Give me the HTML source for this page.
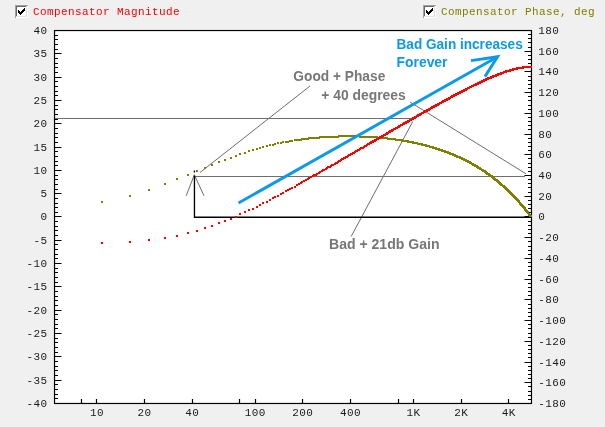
<!DOCTYPE html>
<html lang="en">
<head>
<meta charset="utf-8">
<title>Compensator Magnitude / Phase</title>
<style>
html,body{margin:0;padding:0;background:#f0f0f0;}
body{width:605px;height:427px;overflow:hidden;position:relative;font-family:"Liberation Mono",monospace;}
.chart{position:absolute;left:0;top:0;width:605px;height:427px;background:#f0f0f0;}
.plot{position:absolute;left:0;top:0;display:block;}
.legend{position:absolute;top:5px;height:13px;white-space:nowrap;font:11px/13px "Liberation Mono",monospace;letter-spacing:0.4px;}
.legend .cb{position:absolute;left:0;top:0;display:block;}
.legend span{position:absolute;left:18px;top:0.5px;}
.l1{left:15px;color:#ff0000;}
.l2{left:423px;color:#808000;}
.tl text{font:11px "Liberation Mono",monospace;letter-spacing:0.4px;fill:#1a1a1a;}
.an{font:bold 14px "Liberation Sans",sans-serif;}
.g{fill:#777;}
.b{fill:#0d99ea;}
</style>
</head>
<body>
<div class="chart">
<svg class="plot" width="605" height="427" viewBox="0 0 605 427">
<rect x="53" y="29" width="480" height="376" fill="#fff"/>
<g fill="none" stroke="#000" stroke-width="1.25">
<rect x="54.5" y="30.5" width="477" height="373"/>
</g>
<path d="M54.5 30.5h7M54.5 35.5h3.5M54.5 39.5h3.5M54.5 44.5h3.5M54.5 49.5h3.5M54.5 53.5h7M54.5 58.5h3.5M54.5 63.5h3.5M54.5 67.5h3.5M54.5 72.5h3.5M54.5 77.5h7M54.5 81.5h3.5M54.5 86.5h3.5M54.5 91.5h3.5M54.5 95.5h3.5M54.5 100.5h7M54.5 105.5h3.5M54.5 109.5h3.5M54.5 114.5h3.5M54.5 119.5h3.5M54.5 123.5h7M54.5 128.5h3.5M54.5 133.5h3.5M54.5 137.5h3.5M54.5 142.5h3.5M54.5 147.5h7M54.5 151.5h3.5M54.5 156.5h3.5M54.5 161.5h3.5M54.5 165.5h3.5M54.5 170.5h7M54.5 175.5h3.5M54.5 179.5h3.5M54.5 184.5h3.5M54.5 189.5h3.5M54.5 193.5h7M54.5 198.5h3.5M54.5 203.5h3.5M54.5 207.5h3.5M54.5 212.5h3.5M54.5 216.5h7M54.5 221.5h3.5M54.5 226.5h3.5M54.5 230.5h3.5M54.5 235.5h3.5M54.5 240.5h7M54.5 244.5h3.5M54.5 249.5h3.5M54.5 254.5h3.5M54.5 258.5h3.5M54.5 263.5h7M54.5 268.5h3.5M54.5 272.5h3.5M54.5 277.5h3.5M54.5 282.5h3.5M54.5 286.5h7M54.5 291.5h3.5M54.5 296.5h3.5M54.5 300.5h3.5M54.5 305.5h3.5M54.5 310.5h7M54.5 314.5h3.5M54.5 319.5h3.5M54.5 324.5h3.5M54.5 328.5h3.5M54.5 333.5h7M54.5 338.5h3.5M54.5 342.5h3.5M54.5 347.5h3.5M54.5 352.5h3.5M54.5 356.5h7M54.5 361.5h3.5M54.5 366.5h3.5M54.5 370.5h3.5M54.5 375.5h3.5M54.5 380.5h7M54.5 384.5h3.5M54.5 389.5h3.5M54.5 394.5h3.5M54.5 398.5h3.5M54.5 403.5h7M531.5 30.5h-7M531.5 34.5h-3.5M531.5 38.5h-3.5M531.5 42.5h-3.5M531.5 47.5h-3.5M531.5 51.5h-7M531.5 55.5h-3.5M531.5 59.5h-3.5M531.5 63.5h-3.5M531.5 67.5h-3.5M531.5 71.5h-7M531.5 76.5h-3.5M531.5 80.5h-3.5M531.5 84.5h-3.5M531.5 88.5h-3.5M531.5 92.5h-7M531.5 96.5h-3.5M531.5 100.5h-3.5M531.5 105.5h-3.5M531.5 109.5h-3.5M531.5 113.5h-7M531.5 117.5h-3.5M531.5 121.5h-3.5M531.5 125.5h-3.5M531.5 129.5h-3.5M531.5 134.5h-7M531.5 138.5h-3.5M531.5 142.5h-3.5M531.5 146.5h-3.5M531.5 150.5h-3.5M531.5 154.5h-7M531.5 158.5h-3.5M531.5 163.5h-3.5M531.5 167.5h-3.5M531.5 171.5h-3.5M531.5 175.5h-7M531.5 179.5h-3.5M531.5 183.5h-3.5M531.5 187.5h-3.5M531.5 192.5h-3.5M531.5 196.5h-7M531.5 200.5h-3.5M531.5 204.5h-3.5M531.5 208.5h-3.5M531.5 212.5h-3.5M531.5 216.5h-7M531.5 221.5h-3.5M531.5 225.5h-3.5M531.5 229.5h-3.5M531.5 233.5h-3.5M531.5 237.5h-7M531.5 241.5h-3.5M531.5 246.5h-3.5M531.5 250.5h-3.5M531.5 254.5h-3.5M531.5 258.5h-7M531.5 262.5h-3.5M531.5 266.5h-3.5M531.5 270.5h-3.5M531.5 275.5h-3.5M531.5 279.5h-7M531.5 283.5h-3.5M531.5 287.5h-3.5M531.5 291.5h-3.5M531.5 295.5h-3.5M531.5 299.5h-7M531.5 304.5h-3.5M531.5 308.5h-3.5M531.5 312.5h-3.5M531.5 316.5h-3.5M531.5 320.5h-7M531.5 324.5h-3.5M531.5 328.5h-3.5M531.5 333.5h-3.5M531.5 337.5h-3.5M531.5 341.5h-7M531.5 345.5h-3.5M531.5 349.5h-3.5M531.5 353.5h-3.5M531.5 357.5h-3.5M531.5 362.5h-7M531.5 366.5h-3.5M531.5 370.5h-3.5M531.5 374.5h-3.5M531.5 378.5h-3.5M531.5 382.5h-7M531.5 386.5h-3.5M531.5 391.5h-3.5M531.5 395.5h-3.5M531.5 399.5h-3.5M531.5 403.5h-7M81.5 403.5v-4.5M96.5 403.5v-4.5M144.5 403.5v-4.5M192.5 403.5v-4.5M239.5 403.5v-4.5M255.5 403.5v-4.5M302.5 403.5v-4.5M350.5 403.5v-4.5M398.5 403.5v-4.5M413.5 403.5v-4.5M461.5 403.5v-4.5M508.5 403.5v-4.5" fill="none" stroke="#000" stroke-width="1.2"/>
<g fill="none" stroke="#6e6e6e" stroke-width="1">
<path d="M55 118.5H413.6"/>
<path d="M194.5 176.5H525"/>
<path d="M200 172.5L310 86"/>
<path d="M410.1 102.1L526 173.8"/>
<path d="M351.1 236.6L412.8 121.5"/>
<path d="M186.2 195.8L194.3 174.8L204 195.8"/>
</g>
<path d="M194.45 170.5V172.5M194.45 175.5V217.25H531" fill="none" stroke="#000" stroke-width="1.35"/>
<path class="phase" fill="#808000" shape-rendering="crispEdges" d="M101 201h2v2h-2zM129 195h2v2h-2zM148 189h2v2h-2zM164 183h2v2h-2zM176 178h2v2h-2zM187 174h2v2h-2zM196 170h2v2h-2zM204 167h2v2h-2zM211 164h2v2h-2zM218 161h2v2h-2zM224 159h2v2h-2zM230 157h2v2h-2zM235 155h2v2h-2zM239 153h2v2h-2zM244 152h2v2h-2zM248 150h2v2h-2zM252 149h2v2h-2zM256 148h2v2h-2zM259 147h2v2h-2zM262 146h2v2h-2zM266 145h2v2h-2zM269 144h2v2h-2zM272 144h2v2h-2zM274 143h2v2h-2zM277 142h2v2h-2zM280 142h2v2h-2zM282 141h2v2h-2zM285 141h2v2h-2zM287 141h2v2h-2zM289 140h2v2h-2zM291 140h2v2h-2zM294 139h2v2h-2zM296 139h2v2h-2zM298 139h2v2h-2zM300 139h2v2h-2zM301 138h2v2h-2zM303 138h2v2h-2zM305 138h2v2h-2zM307 138h2v2h-2zM308 137h2v2h-2zM310 137h2v2h-2zM312 137h2v2h-2zM313 137h2v2h-2zM315 137h2v2h-2zM316 137h2v2h-2zM318 137h2v2h-2zM319 136h2v2h-2zM321 136h2v2h-2zM322 136h2v2h-2zM323 136h2v2h-2zM325 136h2v2h-2zM326 136h2v2h-2zM327 136h2v2h-2zM329 136h2v2h-2zM330 136h2v2h-2zM331 136h2v2h-2zM332 136h2v2h-2zM334 136h2v2h-2zM335 136h2v2h-2zM336 136h2v2h-2zM337 136h2v2h-2zM338 135h2v2h-2zM339 135h2v2h-2zM340 135h2v2h-2zM341 135h2v2h-2zM342 135h2v2h-2zM343 135h2v2h-2zM344 135h2v2h-2zM345 135h2v2h-2zM346 135h2v2h-2zM347 135h2v2h-2zM348 135h2v2h-2zM349 135h2v2h-2zM350 135h2v2h-2zM351 135h2v2h-2zM352 135h2v2h-2zM353 135h2v2h-2zM354 135h2v2h-2zM355 135h2v2h-2zM356 135h2v2h-2zM357 135h2v2h-2zM358 135h2v2h-2zM359 136h2v2h-2zM360 136h2v2h-2zM361 136h2v2h-2zM362 136h2v2h-2zM363 136h2v2h-2zM364 136h2v2h-2zM365 136h2v2h-2zM366 136h2v2h-2zM367 136h2v2h-2zM368 136h2v2h-2zM369 136h2v2h-2zM370 136h2v2h-2zM371 136h2v2h-2zM372 136h2v2h-2zM373 136h2v2h-2zM374 136h2v2h-2zM375 136h2v2h-2zM376 136h2v2h-2zM376 137h2v2h-2zM377 137h2v2h-2zM378 137h2v2h-2zM379 137h2v2h-2zM380 137h2v2h-2zM381 137h2v2h-2zM382 137h2v2h-2zM383 137h2v2h-2zM384 137h2v2h-2zM385 137h2v2h-2zM386 137h2v2h-2zM387 138h2v2h-2zM388 138h2v2h-2zM389 138h2v2h-2zM390 138h2v2h-2zM391 138h2v2h-2zM392 138h2v2h-2zM393 138h2v2h-2zM394 138h2v2h-2zM395 139h2v2h-2zM396 139h2v2h-2zM397 139h2v2h-2zM398 139h2v2h-2zM399 139h2v2h-2zM400 139h2v2h-2zM401 139h2v2h-2zM401 140h2v2h-2zM402 140h2v2h-2zM403 140h2v2h-2zM404 140h2v2h-2zM405 140h2v2h-2zM406 140h2v2h-2zM407 140h2v2h-2zM407 141h2v2h-2zM408 141h2v2h-2zM409 141h2v2h-2zM410 141h2v2h-2zM411 141h2v2h-2zM412 141h2v2h-2zM412 142h2v2h-2zM413 142h2v2h-2zM414 142h2v2h-2zM415 142h2v2h-2zM416 142h2v2h-2zM417 143h2v2h-2zM418 143h2v2h-2zM419 143h2v2h-2zM420 143h2v2h-2zM421 143h2v2h-2zM421 144h2v2h-2zM422 144h2v2h-2zM423 144h2v2h-2zM424 144h2v2h-2zM425 144h2v2h-2zM425 145h2v2h-2zM426 145h2v2h-2zM427 145h2v2h-2zM428 145h2v2h-2zM429 146h2v2h-2zM430 146h2v2h-2zM431 146h2v2h-2zM432 146h2v2h-2zM432 147h2v2h-2zM433 147h2v2h-2zM434 147h2v2h-2zM435 147h2v2h-2zM435 148h2v2h-2zM436 148h2v2h-2zM437 148h2v2h-2zM438 148h2v2h-2zM438 149h2v2h-2zM439 149h2v2h-2zM440 149h2v2h-2zM441 149h2v2h-2zM441 150h2v2h-2zM442 150h2v2h-2zM443 150h2v2h-2zM444 150h2v2h-2zM444 151h2v2h-2zM445 151h2v2h-2zM446 151h2v2h-2zM447 151h2v2h-2zM447 152h2v2h-2zM448 152h2v2h-2zM449 152h2v2h-2zM449 153h2v2h-2zM450 153h2v2h-2zM451 153h2v2h-2zM452 153h2v2h-2zM452 154h2v2h-2zM453 154h2v2h-2zM454 154h2v2h-2zM454 155h2v2h-2zM455 155h2v2h-2zM456 155h2v2h-2zM456 156h2v2h-2zM457 156h2v2h-2zM458 156h2v2h-2zM459 156h2v2h-2zM459 157h2v2h-2zM460 157h2v2h-2zM461 157h2v2h-2zM461 158h2v2h-2zM462 158h2v2h-2zM463 158h2v2h-2zM463 159h2v2h-2zM464 159h2v2h-2zM465 159h2v2h-2zM465 160h2v2h-2zM466 160h2v2h-2zM467 160h2v2h-2zM467 161h2v2h-2zM468 161h2v2h-2zM469 161h2v2h-2zM469 162h2v2h-2zM470 162h2v2h-2zM471 163h2v2h-2zM472 163h2v2h-2zM472 164h2v2h-2zM473 164h2v2h-2zM474 164h2v2h-2zM474 165h2v2h-2zM475 165h2v2h-2zM476 165h2v2h-2zM476 166h2v2h-2zM477 166h2v2h-2zM477 167h2v2h-2zM478 167h2v2h-2zM479 167h2v2h-2zM479 168h2v2h-2zM480 168h2v2h-2zM481 169h2v2h-2zM482 169h2v2h-2zM482 170h2v2h-2zM483 170h2v2h-2zM484 170h2v2h-2zM484 171h2v2h-2zM485 171h2v2h-2zM485 172h2v2h-2zM486 172h2v2h-2zM486 173h2v2h-2zM487 173h2v2h-2zM488 173h2v2h-2zM488 174h2v2h-2zM489 174h2v2h-2zM489 175h2v2h-2zM490 175h2v2h-2zM491 175h2v2h-2zM491 176h2v2h-2zM492 176h2v2h-2zM492 177h2v2h-2zM493 177h2v2h-2zM493 178h2v2h-2zM494 178h2v2h-2zM494 179h2v2h-2zM495 179h2v2h-2zM496 179h2v2h-2zM496 180h2v2h-2zM497 180h2v2h-2zM497 181h2v2h-2zM498 181h2v2h-2zM498 182h2v2h-2zM499 182h2v2h-2zM499 183h2v2h-2zM500 183h2v2h-2zM500 184h2v2h-2zM501 184h2v2h-2zM502 185h2v2h-2zM503 185h2v2h-2zM503 186h2v2h-2zM504 186h2v2h-2zM504 187h2v2h-2zM505 187h2v2h-2zM505 188h2v2h-2zM506 188h2v2h-2zM506 189h2v2h-2zM507 189h2v2h-2zM507 190h2v2h-2zM508 190h2v2h-2zM508 191h2v2h-2zM509 191h2v2h-2zM509 192h2v2h-2zM510 192h2v2h-2zM510 193h2v2h-2zM511 193h2v2h-2zM511 194h2v2h-2zM512 194h2v2h-2zM512 195h2v2h-2zM513 195h2v2h-2zM513 196h2v2h-2zM514 196h2v2h-2zM514 197h2v2h-2zM515 197h2v2h-2zM515 198h2v2h-2zM516 198h2v2h-2zM516 199h2v2h-2zM517 199h2v2h-2zM517 200h2v2h-2zM518 200h2v2h-2zM518 201h2v2h-2zM519 202h2v2h-2zM519 203h2v2h-2zM520 203h2v2h-2zM520 204h2v2h-2zM521 204h2v2h-2zM521 205h2v2h-2zM522 205h2v2h-2zM522 206h2v2h-2zM523 206h2v2h-2zM523 207h2v2h-2zM524 207h2v2h-2zM524 208h2v2h-2zM524 209h2v2h-2zM525 209h2v2h-2zM525 210h2v2h-2zM526 210h2v2h-2zM526 211h2v2h-2zM527 211h2v2h-2zM527 212h2v2h-2zM528 213h2v2h-2zM528 214h2v2h-2zM529 214h2v2h-2zM529 215h2v2h-2zM530 215h2v2h-2z"/>
<path class="mag" fill="#ff0000" shape-rendering="crispEdges" d="M101 242h2v2h-2zM129 241h2v2h-2zM148 239h2v2h-2zM164 237h2v2h-2zM176 235h2v2h-2zM187 232h2v2h-2zM196 230h2v2h-2zM204 227h2v2h-2zM211 225h2v2h-2zM218 222h2v2h-2zM224 220h2v2h-2zM230 218h2v2h-2zM235 216h2v2h-2zM239 213h2v2h-2zM244 211h2v2h-2zM248 209h2v2h-2zM252 208h2v2h-2zM256 206h2v2h-2zM259 204h2v2h-2zM262 202h2v2h-2zM266 201h2v2h-2zM269 199h2v2h-2zM272 197h2v2h-2zM274 196h2v2h-2zM277 195h2v2h-2zM280 193h2v2h-2zM282 192h2v2h-2zM285 190h2v2h-2zM287 189h2v2h-2zM289 188h2v2h-2zM291 187h2v2h-2zM294 186h2v2h-2zM296 184h2v2h-2zM298 183h2v2h-2zM300 182h2v2h-2zM301 181h2v2h-2zM303 180h2v2h-2zM305 179h2v2h-2zM307 178h2v2h-2zM308 177h2v2h-2zM310 176h2v2h-2zM312 175h2v2h-2zM313 174h2v2h-2zM315 174h2v2h-2zM316 173h2v2h-2zM318 172h2v2h-2zM319 171h2v2h-2zM321 170h2v2h-2zM322 169h2v2h-2zM323 169h2v2h-2zM325 168h2v2h-2zM326 167h2v2h-2zM327 166h2v2h-2zM329 166h2v2h-2zM330 165h2v2h-2zM331 164h2v2h-2zM332 164h2v2h-2zM334 163h2v2h-2zM335 162h2v2h-2zM336 162h2v2h-2zM337 161h2v2h-2zM338 160h2v2h-2zM339 160h2v2h-2zM340 159h2v2h-2zM341 158h2v2h-2zM342 158h2v2h-2zM343 157h2v2h-2zM344 157h2v2h-2zM345 156h2v2h-2zM346 156h2v2h-2zM347 155h2v2h-2zM348 154h2v2h-2zM349 154h2v2h-2zM350 153h2v2h-2zM351 153h2v2h-2zM352 152h2v2h-2zM353 152h2v2h-2zM354 151h2v2h-2zM355 150h2v2h-2zM356 150h2v2h-2zM357 149h2v2h-2zM358 149h2v2h-2zM359 148h2v2h-2zM360 147h2v2h-2zM361 147h2v2h-2zM362 147h2v2h-2zM363 146h2v2h-2zM364 145h2v2h-2zM365 145h2v2h-2zM366 144h2v2h-2zM367 143h2v2h-2zM368 143h2v2h-2zM369 142h2v2h-2zM370 142h2v2h-2zM370 141h2v2h-2zM371 141h2v2h-2zM372 141h2v2h-2zM372 140h2v2h-2zM373 140h2v2h-2zM374 140h2v2h-2zM374 139h2v2h-2zM375 139h2v2h-2zM376 138h2v2h-2zM377 138h2v2h-2zM378 137h2v2h-2zM379 137h2v2h-2zM379 136h2v2h-2zM380 136h2v2h-2zM381 136h2v2h-2zM381 135h2v2h-2zM382 135h2v2h-2zM383 134h2v2h-2zM384 134h2v2h-2zM385 133h2v2h-2zM386 133h2v2h-2zM386 132h2v2h-2zM387 132h2v2h-2zM388 131h2v2h-2zM389 131h2v2h-2zM389 130h2v2h-2zM390 130h2v2h-2zM391 130h2v2h-2zM391 129h2v2h-2zM392 129h2v2h-2zM393 128h2v2h-2zM394 128h2v2h-2zM395 127h2v2h-2zM396 127h2v2h-2zM397 126h2v2h-2zM398 126h2v2h-2zM398 125h2v2h-2zM399 125h2v2h-2zM400 124h2v2h-2zM401 124h2v2h-2zM402 123h2v2h-2zM403 123h2v2h-2zM403 122h2v2h-2zM404 122h2v2h-2zM405 122h2v2h-2zM405 121h2v2h-2zM406 121h2v2h-2zM407 121h2v2h-2zM407 120h2v2h-2zM408 120h2v2h-2zM409 119h2v2h-2zM410 119h2v2h-2zM411 118h2v2h-2zM412 118h2v2h-2zM412 117h2v2h-2zM413 117h2v2h-2zM414 117h2v2h-2zM414 116h2v2h-2zM415 116h2v2h-2zM416 115h2v2h-2zM417 115h2v2h-2zM417 114h2v2h-2zM418 114h2v2h-2zM419 114h2v2h-2zM419 113h2v2h-2zM420 113h2v2h-2zM421 112h2v2h-2zM422 112h2v2h-2zM423 111h2v2h-2zM424 111h2v2h-2zM424 110h2v2h-2zM425 110h2v2h-2zM426 110h2v2h-2zM426 109h2v2h-2zM427 109h2v2h-2zM428 109h2v2h-2zM428 108h2v2h-2zM429 108h2v2h-2zM430 107h2v2h-2zM431 107h2v2h-2zM431 106h2v2h-2zM432 106h2v2h-2zM433 106h2v2h-2zM433 105h2v2h-2zM434 105h2v2h-2zM435 105h2v2h-2zM435 104h2v2h-2zM436 104h2v2h-2zM437 104h2v2h-2zM437 103h2v2h-2zM438 103h2v2h-2zM439 102h2v2h-2zM440 102h2v2h-2zM441 101h2v2h-2zM442 101h2v2h-2zM442 100h2v2h-2zM443 100h2v2h-2zM444 100h2v2h-2zM444 99h2v2h-2zM445 99h2v2h-2zM446 99h2v2h-2zM446 98h2v2h-2zM447 98h2v2h-2zM448 98h2v2h-2zM448 97h2v2h-2zM449 97h2v2h-2zM450 96h2v2h-2zM451 96h2v2h-2zM451 95h2v2h-2zM452 95h2v2h-2zM453 95h2v2h-2zM453 94h2v2h-2zM454 94h2v2h-2zM455 94h2v2h-2zM455 93h2v2h-2zM456 93h2v2h-2zM457 93h2v2h-2zM457 92h2v2h-2zM458 92h2v2h-2zM459 92h2v2h-2zM459 91h2v2h-2zM460 91h2v2h-2zM461 91h2v2h-2zM461 90h2v2h-2zM462 90h2v2h-2zM463 90h2v2h-2zM463 89h2v2h-2zM464 89h2v2h-2zM465 89h2v2h-2zM465 88h2v2h-2zM466 88h2v2h-2zM467 87h2v2h-2zM468 87h2v2h-2zM469 86h2v2h-2zM470 86h2v2h-2zM471 85h2v2h-2zM472 85h2v2h-2zM473 84h2v2h-2zM474 84h2v2h-2zM475 84h2v2h-2zM475 83h2v2h-2zM476 83h2v2h-2zM477 83h2v2h-2zM477 82h2v2h-2zM478 82h2v2h-2zM479 82h2v2h-2zM479 81h2v2h-2zM480 81h2v2h-2zM481 81h2v2h-2zM481 80h2v2h-2zM482 80h2v2h-2zM483 80h2v2h-2zM483 79h2v2h-2zM484 79h2v2h-2zM485 79h2v2h-2zM485 78h2v2h-2zM486 78h2v2h-2zM487 78h2v2h-2zM487 77h2v2h-2zM488 77h2v2h-2zM489 77h2v2h-2zM490 77h2v2h-2zM490 76h2v2h-2zM491 76h2v2h-2zM492 76h2v2h-2zM492 75h2v2h-2zM493 75h2v2h-2zM494 75h2v2h-2zM495 75h2v2h-2zM495 74h2v2h-2zM496 74h2v2h-2zM497 74h2v2h-2zM497 73h2v2h-2zM498 73h2v2h-2zM499 73h2v2h-2zM500 73h2v2h-2zM500 72h2v2h-2zM501 72h2v2h-2zM502 72h2v2h-2zM503 71h2v2h-2zM504 71h2v2h-2zM505 71h2v2h-2zM505 70h2v2h-2zM506 70h2v2h-2zM507 70h2v2h-2zM508 70h2v2h-2zM509 70h2v2h-2zM509 69h2v2h-2zM510 69h2v2h-2zM511 69h2v2h-2zM512 69h2v2h-2zM512 68h2v2h-2zM513 68h2v2h-2zM514 68h2v2h-2zM515 68h2v2h-2zM516 68h2v2h-2zM516 67h2v2h-2zM517 67h2v2h-2zM518 67h2v2h-2zM519 67h2v2h-2zM520 67h2v2h-2zM521 67h2v2h-2zM522 67h2v2h-2zM522 66h2v2h-2zM523 66h2v2h-2zM524 66h2v2h-2zM525 66h2v2h-2zM526 66h2v2h-2zM527 66h2v2h-2zM528 66h2v2h-2zM529 66h2v2h-2zM530 66h2v2h-2z"/>
<g fill="none" stroke="#0d99ea" stroke-width="2.9" stroke-linecap="butt" stroke-linejoin="miter">
<path d="M238.5 203L497.6 56.7"/>
<path d="M471 60.6L497.6 56.7L484.9 76.6"/>
</g>
<g class="tl">
<text x="47.5" y="34" text-anchor="end">40</text>
<text x="47.5" y="57" text-anchor="end">35</text>
<text x="47.5" y="81" text-anchor="end">30</text>
<text x="47.5" y="104" text-anchor="end">25</text>
<text x="47.5" y="127" text-anchor="end">20</text>
<text x="47.5" y="151" text-anchor="end">15</text>
<text x="47.5" y="174" text-anchor="end">10</text>
<text x="47.5" y="197" text-anchor="end">5</text>
<text x="47.5" y="220" text-anchor="end">0</text>
<text x="47.5" y="244" text-anchor="end">-5</text>
<text x="47.5" y="267" text-anchor="end">-10</text>
<text x="47.5" y="290" text-anchor="end">-15</text>
<text x="47.5" y="314" text-anchor="end">-20</text>
<text x="47.5" y="337" text-anchor="end">-25</text>
<text x="47.5" y="360" text-anchor="end">-30</text>
<text x="47.5" y="384" text-anchor="end">-35</text>
<text x="47.5" y="407" text-anchor="end">-40</text>
<text x="538.3" y="34">180</text>
<text x="538.3" y="55">160</text>
<text x="538.3" y="75">140</text>
<text x="538.3" y="96">120</text>
<text x="538.3" y="117">100</text>
<text x="538.3" y="138">80</text>
<text x="538.3" y="158">60</text>
<text x="538.3" y="179">40</text>
<text x="538.3" y="200">20</text>
<text x="538.3" y="220">0</text>
<text x="538.3" y="241">-20</text>
<text x="538.3" y="262">-40</text>
<text x="538.3" y="283">-60</text>
<text x="538.3" y="303">-80</text>
<text x="538.3" y="324">-100</text>
<text x="538.3" y="345">-120</text>
<text x="538.3" y="366">-140</text>
<text x="538.3" y="386">-160</text>
<text x="538.3" y="407">-180</text>
<text x="96.9" y="416" text-anchor="middle">10</text>
<text x="144.55" y="416" text-anchor="middle">20</text>
<text x="192.21" y="416" text-anchor="middle">40</text>
<text x="255.2" y="416" text-anchor="middle">100</text>
<text x="302.85" y="416" text-anchor="middle">200</text>
<text x="350.51" y="416" text-anchor="middle">400</text>
<text x="413.5" y="416" text-anchor="middle">1K</text>
<text x="461.15" y="416" text-anchor="middle">2K</text>
<text x="508.81" y="416" text-anchor="middle">4K</text>
</g>
<text class="an g" x="293.3" y="81" textLength="92" lengthAdjust="spacingAndGlyphs">Good + Phase</text>
<text class="an g" x="321.2" y="99.7" textLength="84.6" lengthAdjust="spacingAndGlyphs">+ 40 degrees</text>
<text class="an g" x="329" y="249.3" textLength="110.5" lengthAdjust="spacingAndGlyphs">Bad + 21db Gain</text>
<text class="an b" x="396.5" y="48.9" textLength="126.2" lengthAdjust="spacingAndGlyphs">Bad Gain increases</text>
<text class="an b" x="396.5" y="67.3" textLength="51" lengthAdjust="spacingAndGlyphs">Forever</text>
</svg>
<label class="legend l1"><svg class="cb" width="13" height="13" viewBox="0 0 13 13" shape-rendering="crispEdges"><rect width="13" height="13" fill="#fff"/><path d="M0 0h13v1h-12v12h-1z" fill="#a0a0a0"/><path d="M1 1h11v1h-10v10h-1z" fill="#696969"/><path d="M11 1h1v11h-11v-1h10z" fill="#e3e3e3"/><path d="M3 5h1v1h1v1h1v-1h1v-1h1v-1h1v-1h1v3h-1v1h-1v1h-1v1h-1v1h-1v-1h-1v-1h-1z" fill="#000"/></svg><span>Compensator Magnitude</span></label>
<label class="legend l2"><svg class="cb" width="13" height="13" viewBox="0 0 13 13" shape-rendering="crispEdges"><rect width="13" height="13" fill="#fff"/><path d="M0 0h13v1h-12v12h-1z" fill="#a0a0a0"/><path d="M1 1h11v1h-10v10h-1z" fill="#696969"/><path d="M11 1h1v11h-11v-1h10z" fill="#e3e3e3"/><path d="M3 5h1v1h1v1h1v-1h1v-1h1v-1h1v-1h1v3h-1v1h-1v1h-1v1h-1v1h-1v-1h-1v-1h-1z" fill="#000"/></svg><span>Compensator Phase, deg</span></label>
</div>
</body>
</html>
